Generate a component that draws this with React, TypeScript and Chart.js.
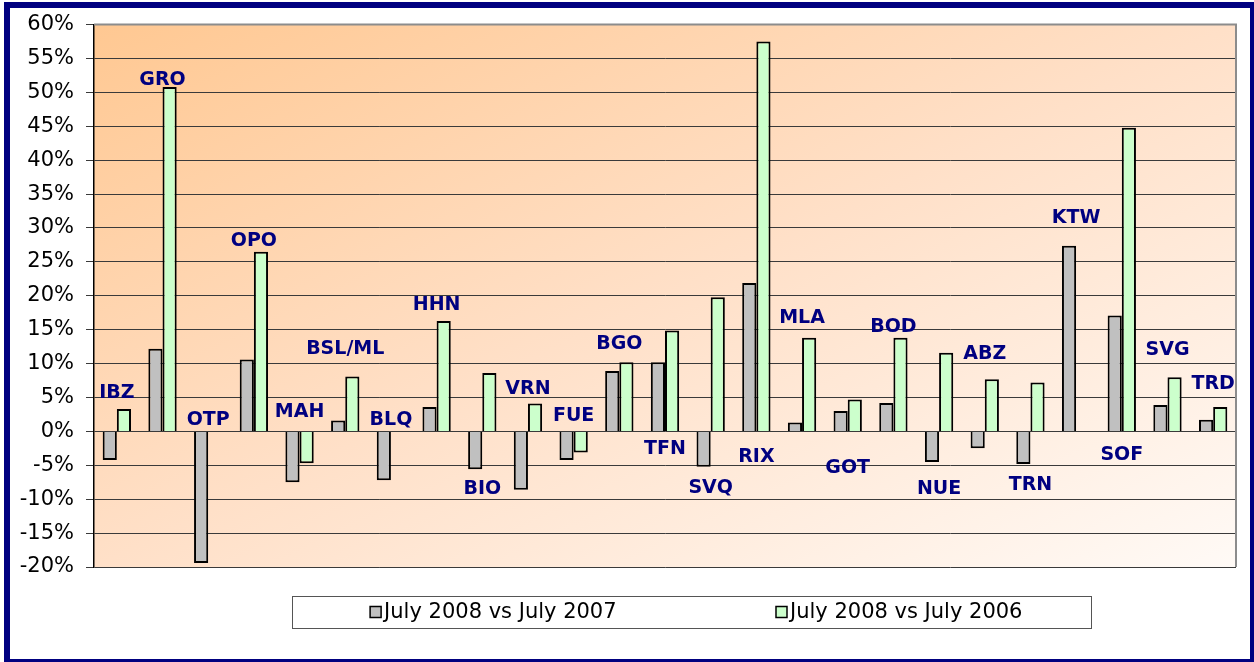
import React, { useEffect, useRef } from "react";
import { Chart, registerables } from "chart.js";

Chart.register(...registerables);

const categories = ["IBZ", "GRO", "OTP", "OPO", "MAH", "BSL/ML", "BLQ", "HHN", "BIO", "VRN", "FUE", "BGO", "TFN", "SVQ", "RIX", "MLA", "GOT", "BOD", "NUE", "ABZ", "TRN", "KTW", "SOF", "SVG", "TRD"];
const seriesNames = ["July 2008 vs July 2007", "July 2008 vs July 2006"];
const vs2007 = [-4.2, 12.2, -19.4, 10.6, -7.5, 1.6, -7.2, 3.6, -5.6, -8.6, -4.2, 8.9, 10.2, -5.2, 21.9, 1.3, 3.0, 4.2, -4.5, -2.5, -4.8, 27.4, 17.1, 3.9, 1.7];
const vs2006 = [3.3, 50.8, null, 26.5, -4.7, 8.1, null, 16.3, 8.6, 4.1, -3.1, 10.2, 14.9, 19.8, 57.5, 13.8, 4.7, 13.8, 11.6, 7.7, 7.2, null, 44.8, 8.0, 3.6];
// value (in %) at which each category's name label sits
const labelAt = [5.6, 51.8, 1.6, 28.0, 2.8, 12.2, 1.6, 18.6, -8.5, 6.3, 2.3, 12.9, -2.6, -8.4, -3.8, 16.7, -5.4, 15.4, -8.5, 11.4, -7.9, 31.5, -3.5, 12.0, 7.0];
const yMin = -20;
const yMax = 60;
const yStep = 5;

const colors = ["#C0C0C0", "#CCFFCC"];

const bgPlugin = {
  id: "bg",
  beforeDraw(chart: any) {
    const { ctx, chartArea: a, width, height } = chart;
    ctx.save();
    ctx.fillStyle = "#FFFFFF";
    ctx.fillRect(0, 0, width, height);
    const w = a.right - a.left;
    const h = a.bottom - a.top;
    const k = (2 * w * h) / (w * w + h * h);
    const g = ctx.createLinearGradient(a.left, a.top, a.left + h * k, a.top + w * k);
    g.addColorStop(0, "#FFC892");
    g.addColorStop(0.5, "#FFE0C8");
    g.addColorStop(1, "#FFFAF6");
    ctx.fillStyle = g;
    ctx.fillRect(a.left, a.top, w, h);
    ctx.restore();
  },
};

const decorPlugin = {
  id: "decor",
  afterDatasetsDraw(chart: any) {
    const { ctx, chartArea: a, scales } = chart;
    const xs = scales.x;
    const ys = scales.y;
    ctx.save();
    ctx.strokeStyle = "#8C8C8C";
    ctx.lineWidth = 2;
    ctx.beginPath();
    ctx.moveTo(a.left, a.top);
    ctx.lineTo(a.right, a.top);
    ctx.lineTo(a.right, a.bottom);
    ctx.stroke();
    ctx.fillStyle = "#000080";
    ctx.font = "bold 19px 'DejaVu Sans'";
    ctx.textAlign = "center";
    ctx.textBaseline = "middle";
    categories.forEach((c, i) => {
      ctx.fillText(c, xs.getPixelForValue(i), ys.getPixelForValue(labelAt[i]));
    });
    ctx.restore();
  },
  afterDraw(chart: any) {
    const { ctx } = chart;
    ctx.save();
    const box = { left: 292, top: 596, right: 1091, bottom: 628 };
    ctx.fillStyle = "#FFFFFF";
    ctx.fillRect(box.left, box.top, box.right - box.left, box.bottom - box.top);
    ctx.strokeStyle = "#555";
    ctx.lineWidth = 1;
    ctx.strokeRect(box.left + 0.5, box.top + 0.5, box.right - box.left, box.bottom - box.top);
    const bw = box.right - box.left;
    const cy = (box.top + box.bottom) / 2;
    ctx.font = "21px 'DejaVu Sans'";
    ctx.textBaseline = "middle";
    ctx.textAlign = "left";
    seriesNames.forEach((name, i) => {
      const center = box.left + bw * (i === 0 ? 0.252 : 0.76);
      const tw = ctx.measureText(name).width;
      const total = 11 + 3 + tw;
      const x0 = center - total / 2;
      ctx.fillStyle = colors[i];
      ctx.fillRect(x0, cy - 5.5, 11, 11);
      ctx.strokeStyle = "#000";
      ctx.lineWidth = 1.5;
      ctx.strokeRect(x0, cy - 5.5, 11, 11);
      ctx.fillStyle = "#000";
      ctx.fillText(name, x0 + 14, cy + 1);
    });
    ctx.restore();
  },
};

export default function App() {
  const ref = useRef<HTMLCanvasElement>(null);
  useEffect(() => {
    document.body.style.margin = "0";
    const chart = new Chart(ref.current!, {
      type: "bar",
      data: {
        labels: categories,
        datasets: [
          { label: seriesNames[0], data: vs2007, backgroundColor: colors[0], borderColor: "#000", borderWidth: 2, categoryPercentage: 0.62, barPercentage: 1 },
          { label: seriesNames[1], data: vs2006 as any, backgroundColor: colors[1], borderColor: "#000", borderWidth: 2, categoryPercentage: 0.62, barPercentage: 1 },
        ],
      },
      options: {
        animation: false,
        responsive: true,
        maintainAspectRatio: false,
        layout: { padding: { left: 0, top: 22, right: 18, bottom: 95 } },
        plugins: { legend: { display: false }, tooltip: { enabled: false } },
        scales: {
          x: { display: false, grid: { display: false } },
          y: {
            min: yMin,
            max: yMax,
            afterFit: (s: any) => { s.width = 94; },
            ticks: {
              stepSize: yStep,
              color: "#000",
              padding: 12,
              font: { family: "'DejaVu Sans'", size: 21 },
              callback: (v: any) => `${v}%`,
            },
            grid: { color: "#3A3A3A", lineWidth: 1, tickLength: 8, drawTicks: true },
            border: { color: "#000", width: 1.5 },
          },
        },
      },
      plugins: [bgPlugin, decorPlugin],
    });
    return () => chart.destroy();
  }, []);
  return (
    <div style={{ position: "fixed", left: 0, top: 0, width: 1254, height: 662, background: "#fff" }}>
      <canvas ref={ref} />
      <div style={{ position: "absolute", left: 4, top: 2, width: 1252, height: 663, boxSizing: "border-box", border: "6px solid #000080", pointerEvents: "none" }} />
    </div>
  );
}
